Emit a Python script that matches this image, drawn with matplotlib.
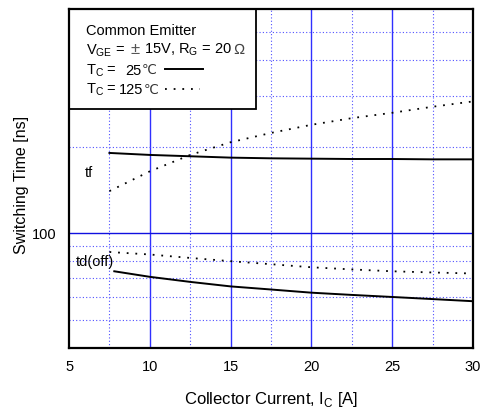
import matplotlib.pyplot as plt
import matplotlib.ticker as mticker
from matplotlib.patches import Rectangle
import numpy as np

plt.rcParams['font.family'] = ['Liberation Sans', 'DejaVu Sans']
plt.rcParams['mathtext.fontset'] = 'custom'
plt.rcParams['mathtext.rm'] = 'Liberation Sans'

# data (collector current in A, time in ns)
ic = [7.5, 10, 12.5, 15, 17.5, 20, 22.5, 25, 27.5, 30]
tf_25 = [190, 187, 185, 183, 182, 181.5, 181, 181, 180.5, 180.5]
tf_125 = [140, 164, 187, 207, 223, 238, 251, 262, 275, 287]
ic_td25 = [7.8, 10, 12.5, 15, 17.5, 20, 22.5, 25, 27.5, 30]
td_25 = [73.7, 70.5, 67.7, 65.3, 63.7, 62.1, 61, 60, 59, 58]
td_125 = [86, 84.3, 82, 79.9, 78, 76.1, 74.8, 73.7, 73, 72.4]

x_major = [10, 15, 20, 25]
x_minor = [7.5, 12.5, 17.5, 22.5, 27.5]
y_major = [100]
y_minor = [50, 60, 70, 80, 90, 200, 300, 400, 500]

fig = plt.figure(figsize=(4.81, 4.09), dpi=100)
ax = fig.add_axes([0.1435, 0.150, 0.840, 0.8274])

ax.set_yscale('log')
ax.set_xlim(5, 30)
ax.set_ylim(40, 600)

ax.set_xticks([5, 10, 15, 20, 25, 30])
ax.set_xticks(x_minor, minor=True)
ax.set_yticks(y_major)
ax.set_yticks(y_minor, minor=True)
ax.yaxis.set_major_formatter(mticker.FixedFormatter(['100']))
ax.yaxis.set_minor_formatter(mticker.NullFormatter())
ax.tick_params(which='both', length=0, labelsize=10.5, pad=9)

# grid
for xv in x_major:
    ax.axvline(xv, color='#3030ff', lw=1.0, zorder=1)
for xv in x_minor:
    ax.axvline(xv, color='#5050ff', lw=0.8, ls=(0, (1, 2)), zorder=1)
for yv in y_major:
    ax.axhline(yv, color='#1010e0', lw=1.0, zorder=1)
for yv in y_minor:
    ax.axhline(yv, color='#5050ff', lw=0.8, ls=(0, (1, 2)), zorder=1)

dot = (0, (1, 3.8))
ax.plot(ic, tf_25, color='k', lw=1.4, zorder=3)
ax.plot(ic, tf_125, color='k', lw=1.3, ls=dot, zorder=3)
ax.plot(ic_td25, td_25, color='k', lw=1.4, zorder=3)
ax.plot(ic, td_125, color='k', lw=1.3, ls=dot, zorder=3)

ax.text(0.040, 0.515, 'tf', transform=ax.transAxes, fontsize=10.5, va='center', ha='left', zorder=4)
ax.text(0.017, 0.252, 'td(off)', transform=ax.transAxes, fontsize=10.5, va='center', ha='left', zorder=4)

# legend box
box = Rectangle((0.0, 0.705), 0.463, 0.295, transform=ax.transAxes, facecolor='white',
                edgecolor='k', lw=1.3, zorder=5)
ax.add_patch(box)
fs = 10.5
tx = 0.042
ax.text(tx, 0.937, 'Common Emitter', transform=ax.transAxes, fontsize=fs, va='center', zorder=6)
t1 = ax.text(tx, 0.878, r'V$_{\rm GE}$ =', transform=ax.transAxes, fontsize=fs, va='center', zorder=6)
t1b = ax.annotate('\u00b1', xy=(1, 0.5), xycoords=t1, xytext=(4, 0.5), textcoords='offset points',
                  fontsize=fs + 1.5, va='center', color='#555555', zorder=6)
t1c = ax.annotate(r' 15V, R$_{\rm G}$ = 20', xy=(1, 0.5), xycoords=t1b, fontsize=fs, va='center', zorder=6)
ax.annotate('\u2126', xy=(1, 0.5), xycoords=t1c, xytext=(1, 0), textcoords='offset points',
            fontsize=fs, va='center', color='#444444', zorder=6)
t2 = ax.text(tx, 0.818, r'T$_{\rm C}$ =', transform=ax.transAxes, fontsize=fs, va='center', zorder=6)
t2b = ax.annotate('25', xy=(1, 0.5), xycoords=t2, xytext=(6, 0), textcoords='offset points',
                  fontsize=fs, va='center', zorder=6)
ax.annotate('\u2103', xy=(1, 0.5), xycoords=t2b, xytext=(0.5, 0), textcoords='offset points',
            fontsize=9.5, va='center', zorder=6, color='#333333', family=['DejaVu Sans'])
t3 = ax.text(tx, 0.761, r'T$_{\rm C}$ =', transform=ax.transAxes, fontsize=fs, va='center', zorder=6)
t3b = ax.annotate('125', xy=(1, 0.5), xycoords=t3, xytext=(1.5, 0), textcoords='offset points',
                  fontsize=fs, va='center', zorder=6)
ax.annotate('\u2103', xy=(1, 0.5), xycoords=t3b, xytext=(0.5, 0), textcoords='offset points',
            fontsize=9.5, va='center', zorder=6, color='#333333', family=['DejaVu Sans'])
ax.plot([0.237, 0.332], [0.823, 0.823], transform=ax.transAxes, color='k', lw=1.4, zorder=6)
ax.plot([0.237, 0.325], [0.765, 0.765], transform=ax.transAxes, color='k', lw=1.3, ls=dot, zorder=6)

for sp in ax.spines.values():
    sp.set_linewidth(1.6)
    sp.set_zorder(7)

ax.set_xlabel(r'Collector Current, I$_{\rm C}$ [A]', fontsize=12)
ax.set_ylabel('Switching Time [ns]', fontsize=11.5)
ax.xaxis.set_label_coords(0.5, -0.125)
ax.yaxis.set_label_coords(-0.098, 0.48)

fig.savefig('out.png', dpi=100)
